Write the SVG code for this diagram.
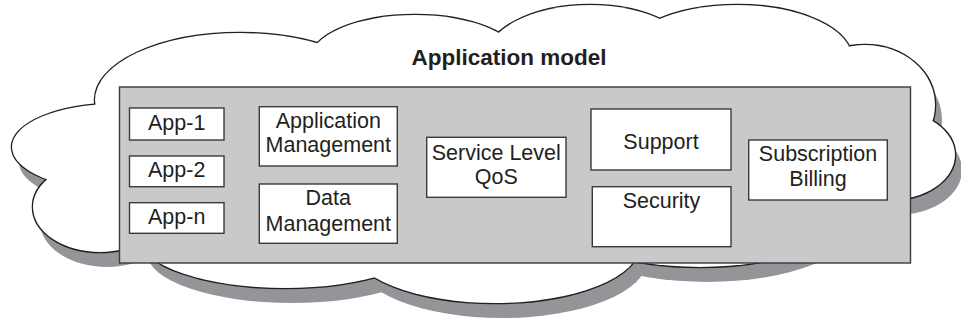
<svg xmlns="http://www.w3.org/2000/svg" xmlns:xlink="http://www.w3.org/1999/xlink" width="961" height="321" viewBox="0 0 961 321">
<style>
.shadow{fill:#939598}
.outline{fill:#fff;stroke:#231f20;stroke-width:2.6}
.fill{fill:#fff}
.panel{fill:#c8c9cb;stroke:#3a3a3a;stroke-width:1.4}
.box{fill:#fff;stroke:#3a3a3a;stroke-width:1.4}
.t{font-family:"Liberation Sans",Arial,sans-serif;font-size:21.5px;fill:#231f20;text-anchor:middle}
.title{font-weight:bold;font-size:22.5px}
</style>
<defs>
<g id="lobes">
<ellipse cx="240" cy="100" rx="145" ry="67"/>
<ellipse cx="415" cy="60" rx="105" ry="45"/>
<ellipse cx="590" cy="60" rx="105" ry="55"/>
<ellipse cx="737" cy="58.5" rx="115" ry="53.5"/>
<ellipse cx="865" cy="105" rx="70" ry="60"/>
<ellipse cx="890" cy="155" rx="65" ry="45"/>
<ellipse cx="115" cy="147" rx="103" ry="43"/>
<ellipse cx="100" cy="207" rx="67" ry="45"/>
<ellipse cx="285" cy="238" rx="145" ry="50"/>
<ellipse cx="495" cy="245" rx="145" ry="58"/>
<ellipse cx="700" cy="207" rx="150" ry="60"/>
</g>
</defs>
<g id="cloud">
<use href="#lobes" xlink:href="#lobes" class="shadow" transform="translate(7,15)"/>
<use href="#lobes" xlink:href="#lobes" class="outline"/>
<use href="#lobes" xlink:href="#lobes" class="fill"/>
<rect class="fill" x="130" y="60" width="770" height="30"/>
<text class="t title" x="509" y="65">Application model</text>
</g>
<g id="panel">
<rect class="panel" x="119.5" y="87" width="791" height="176"/>
</g>
<g id="app1">
<rect class="box" x="129.5" y="108" width="94.5" height="32"/>
<text class="t" x="176.7" y="129.5">App-1</text>
</g>
<g id="app2">
<rect class="box" x="129.5" y="156" width="94.5" height="30.7"/>
<text class="t" x="176.7" y="177">App-2</text>
</g>
<g id="appn">
<rect class="box" x="129.5" y="202.7" width="94.5" height="30.6"/>
<text class="t" x="176.7" y="223.5">App-n</text>
</g>
<g id="appmgmt">
<rect class="box" x="259.3" y="106.7" width="138" height="59.3"/>
<text class="t" x="328.3" y="128">Application</text>
<text class="t" x="328.3" y="151.7">Management</text>
</g>
<g id="datamgmt">
<rect class="box" x="259.3" y="184" width="138" height="59.3"/>
<text class="t" x="328.3" y="205">Data</text>
<text class="t" x="328.3" y="230.7">Management</text>
</g>
<g id="slqos">
<rect class="box" x="426.7" y="137.3" width="139.3" height="60"/>
<text class="t" x="496.3" y="160">Service Level</text>
<text class="t" x="496.3" y="184">QoS</text>
</g>
<g id="support">
<rect class="box" x="591" y="109" width="140" height="61"/>
<text class="t" x="661" y="149">Support</text>
</g>
<g id="security">
<rect class="box" x="592.3" y="186.7" width="138.7" height="60"/>
<text class="t" x="661.5" y="208.3">Security</text>
</g>
<g id="subbill">
<rect class="box" x="748.7" y="140" width="138.6" height="60"/>
<text class="t" x="818" y="161">Subscription</text>
<text class="t" x="818" y="186">Billing</text>
</g>
<g id="connectors"/>
</svg>
